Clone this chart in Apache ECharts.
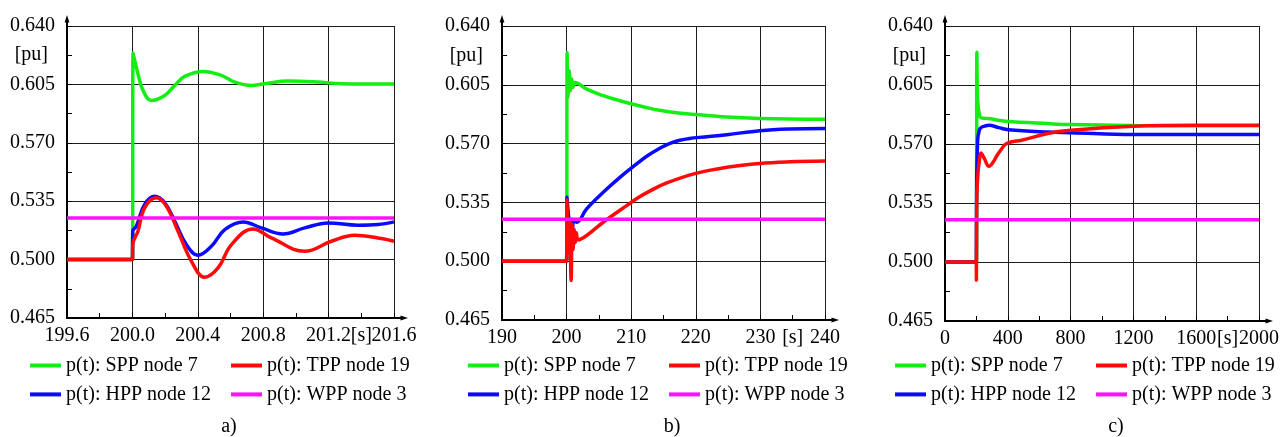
<!DOCTYPE html>
<html>
<head>
<meta charset="utf-8">
<script src="https://cdn.jsdelivr.net/npm/echarts@6/dist/echarts.min.js"></script>
<style>
  html, body { margin: 0; padding: 0; background: #fff; }
  #chart { width: 1282px; height: 437px; }
</style>
</head>
<body>
<div id="chart"></div>
<script>
// ---- a) short-term response, t in [199.6, 201.6] s ----
const sppA = [[199.6, 0.5], [200, 0.5], [200.004, 0.6238], [200.034, 0.6114], [200.065, 0.6014], [200.116, 0.5954],
  [200.198, 0.5984], [200.259, 0.6044], [200.32, 0.6098], [200.432, 0.6128], [200.544, 0.6104], [200.626, 0.6064],
  [200.728, 0.6044], [200.809, 0.6054], [200.952, 0.607], [201.135, 0.6064], [201.278, 0.6054], [201.6, 0.6052]];
const hppA = [[199.6, 0.5], [200, 0.5], [200.002, 0.517], [200.024, 0.52], [200.075, 0.533], [200.136, 0.5379],
  [200.198, 0.534], [200.259, 0.523], [200.33, 0.509], [200.401, 0.5026], [200.483, 0.508], [200.565, 0.518],
  [200.677, 0.5226], [200.789, 0.519], [200.921, 0.5154], [201.054, 0.519], [201.197, 0.522], [201.38, 0.5206],
  [201.502, 0.521], [201.6, 0.5226]];
const tppA = [[199.6, 0.5], [200, 0.5], [200.002, 0.509], [200.034, 0.517], [200.075, 0.531], [200.147, 0.537],
  [200.208, 0.532], [200.279, 0.517], [200.361, 0.499], [200.442, 0.4894], [200.524, 0.495], [200.606, 0.509],
  [200.738, 0.5184], [200.85, 0.513], [201.054, 0.505], [201.217, 0.511], [201.36, 0.5146], [201.502, 0.513],
  [201.6, 0.511]];
const wppA = [[199.6, 0.525], [201.6, 0.525]];

// ---- b) medium-term response, t in [190, 240] s ----
const sppB = [[190, 0.5], [200, 0.5], [200.08, 0.6242], [200.2, 0.5975], [200.4, 0.6133], [200.6, 0.6014],
  [200.8, 0.6084], [201.0, 0.6034], [201.3, 0.6064], [203.1, 0.6024], [205.7, 0.5985], [208, 0.5958],
  [210, 0.5937], [212, 0.5918], [214.4, 0.5898], [217, 0.5884], [220, 0.5873], [224.8, 0.5858],
  [229.9, 0.585], [240, 0.5845]];
const hppB = [[190, 0.5], [200, 0.5], [200.05, 0.538], [200.4, 0.523], [200.6, 0.5193], [200.75, 0.525],
  [200.9, 0.518], [201.1, 0.524], [201.55, 0.5232], [203.1, 0.5311], [205.67, 0.541], [208.25, 0.5499],
  [210.84, 0.5579], [212.4, 0.5625], [214.5, 0.5674], [216, 0.5702], [217.5, 0.572], [219, 0.573],
  [220.5, 0.5737], [224.8, 0.5753], [229.9, 0.5777], [234.6, 0.5787], [240, 0.579]];
const tppB = [[190, 0.5], [200, 0.5], [200.05, 0.5365], [200.25, 0.505], [200.45, 0.525], [200.7, 0.4885],
  [200.85, 0.522], [201.0, 0.507], [201.15, 0.519], [201.35, 0.511], [201.5, 0.517], [201.8, 0.5127],
  [203.1, 0.5153], [205.67, 0.5232], [209.3, 0.5331], [211.3, 0.5383], [213, 0.542], [215.5, 0.5466],
  [220, 0.5523], [224.8, 0.5559], [229.9, 0.5582], [234.6, 0.5592], [240, 0.5597]];
const wppB = [[190, 0.525], [240, 0.525]];

// ---- c) long-term response, t in [0, 2000] s ----
const sppC = [[0, 0.5], [200, 0.5], [203, 0.6245], [208, 0.5959], [218, 0.588], [229, 0.5856], [260, 0.5852],
  [291, 0.585], [330, 0.5842], [384, 0.5835], [654, 0.5821], [800, 0.5815], [1200, 0.581], [2000, 0.5808]];
const hppC = [[0, 0.5], [200, 0.5], [201, 0.5386], [208, 0.5722], [218, 0.578], [229, 0.5797], [260, 0.5808],
  [280, 0.5811], [343, 0.5797], [405, 0.5785], [654, 0.5771], [800, 0.5767], [1200, 0.5756], [2000, 0.5756]];
const tppC = [[0, 0.5], [199, 0.5], [200, 0.4891], [202, 0.5366], [210, 0.5525], [218, 0.5595], [229, 0.5647],
  [250, 0.5615], [280, 0.5568], [305, 0.559], [332, 0.5633], [360, 0.567], [384, 0.5698], [420, 0.5712],
  [488, 0.5722], [654, 0.5762], [800, 0.5781], [1200, 0.5805], [1600, 0.5811], [2000, 0.5811]];
const wppC = [[0, 0.525], [2000, 0.525]];

// axis ranges and labels
const yTicks = { min: 0.465, max: 0.640, step: 0.035, unitAt: 0.6225 };
const xRangeA = { min: 199.6, max: 201.6, step: 0.4, digits: 1, unitAt: 201.4 };
const xRangeB = { min: 190, max: 240, step: 10, digits: 0, unitAt: 235 };
const xRangeC = { min: 0, max: 2000, step: 400, digits: 0, unitAt: 1800 };
const captions = ['a)', 'b)', 'c)'];
const seriesNames = {
  spp: 'p(t): SPP node 7',
  tpp: 'p(t): TPP node 19',
  hpp: 'p(t): HPP node 12',
  wpp: 'p(t): WPP node 3'
};

const FONT = "'Liberation Serif', 'Times New Roman', serif";
const FS = 20;
const COLORS = { spp: '#14ee14', hpp: '#0a0aff', tpp: '#ff0a0a', wpp: '#ff10ff' };
const DRAW_ORDER = ['spp', 'hpp', 'tpp', 'wpp'];

const panels = [
  { x: xRangeA, data: { spp: sppA, hpp: hppA, tpp: tppA, wpp: wppA },
    grid: { left: 67, top: 26, width: 327, height: 292 }, legendLeft: [30, 231], captionX: 229 },
  { x: xRangeB, data: { spp: sppB, hpp: hppB, tpp: tppB, wpp: wppB },
    grid: { left: 502, top: 26, width: 323, height: 294 }, legendLeft: [468, 669], captionX: 672 },
  { x: xRangeC, data: { spp: sppC, hpp: hppC, tpp: tppC, wpp: wppC },
    grid: { left: 945, top: 26, width: 321, height: 295 }, legendLeft: [895, 1096], captionX: 1116 }
];

const textStyle = { fontFamily: FONT, fontSize: FS, color: '#000' };
const axisLineStyle = { color: '#000', width: 2 };

const option = {
  animation: false,
  backgroundColor: '#fff',
  grid: panels.map(p => Object.assign({ containLabel: false }, p.grid)),
  xAxis: panels.map((p, i) => ({
    type: 'value', gridIndex: i,
    min: p.x.min, max: p.x.max, interval: p.x.step,
    axisLine: { show: true, onZero: false, lineStyle: axisLineStyle },
    axisTick: { show: true, inside: true, length: 5, lineStyle: { color: '#000', width: 1 } },
    minorTick: { show: true, splitNumber: 2, length: 5, lineStyle: { color: '#000', width: 1 } },
    splitLine: { show: true, lineStyle: { color: '#1c1c1c', width: 1 } },
    axisLabel: Object.assign({ margin: 8, showMinLabel: true, showMaxLabel: true,
      formatter: v => v.toFixed(p.x.digits) }, textStyle)
  })),
  yAxis: panels.map((p, i) => ({
    type: 'value', gridIndex: i,
    min: yTicks.min, max: yTicks.max, interval: yTicks.step,
    axisLine: { show: true, onZero: false, lineStyle: axisLineStyle },
    axisTick: { show: true, inside: true, length: 5, lineStyle: { color: '#000', width: 1 } },
    minorTick: { show: true, splitNumber: 2, length: 5, lineStyle: { color: '#000', width: 1 } },
    splitLine: { show: true, lineStyle: { color: '#1c1c1c', width: 1 } },
    axisLabel: Object.assign({ margin: 12, showMinLabel: true, showMaxLabel: true,
      formatter: v => v.toFixed(3) }, textStyle)
  })),
  legend: [],
  series: []
};

panels.forEach((p, i) => {
  DRAW_ORDER.forEach(key => {
    option.series.push({
      type: 'line', name: seriesNames[key], xAxisIndex: i, yAxisIndex: i,
      data: p.data[key], showSymbol: false, symbol: 'none', smooth: 0.4,
      lineStyle: { color: COLORS[key], width: 3.5 },
      itemStyle: { color: COLORS[key] },
      clip: true
    });
  });
  const cols = [[seriesNames.spp, seriesNames.hpp], [seriesNames.tpp, seriesNames.wpp]];
  cols.forEach((names, c) => {
    option.legend.push({
      orient: 'vertical', left: p.legendLeft[c], top: 355, padding: 0,
      itemGap: 7.9, itemWidth: 31, itemHeight: 4, icon: 'rect',
      selectedMode: false,
      textStyle: Object.assign({ lineHeight: 21, padding: 0 }, textStyle),
      data: names
    });
  });
});

const chart = echarts.init(document.getElementById('chart'), null, { renderer: 'canvas' });
chart.setOption(option);

// axis arrows, unit labels and panel captions, placed from the axis scales
const graphics = [];
panels.forEach((p, i) => {
  const tl = chart.convertToPixel({ gridIndex: i }, [p.x.min, yTicks.max]);
  const br = chart.convertToPixel({ gridIndex: i }, [p.x.max, yTicks.min]);
  const x0 = tl[0], top = tl[1], right = br[0], bottom = br[1];
  const line = { stroke: '#000', lineWidth: 2 };
  graphics.push(
    { type: 'line', shape: { x1: x0, y1: top, x2: x0, y2: top - 5 }, style: line },
    { type: 'polygon', shape: { points: [[x0, top - 11], [x0 - 2.4, top - 3.5], [x0 + 2.4, top - 3.5]] }, style: { fill: '#000' } },
    { type: 'line', shape: { x1: right, y1: bottom, x2: right + 8, y2: bottom }, style: line },
    { type: 'polygon', shape: { points: [[right + 14, bottom], [right + 6.5, bottom - 2.4], [right + 6.5, bottom + 2.4]] }, style: { fill: '#000' } }
  );
  const pu = chart.convertToPixel({ gridIndex: i }, [p.x.min, yTicks.unitAt]);
  graphics.push({ type: 'text', x: x0 - 19, y: pu[1],
    style: { text: '[pu]', font: FS + 'px ' + FONT, fill: '#000', align: 'right', verticalAlign: 'middle' } });
  const su = chart.convertToPixel({ gridIndex: i }, [p.x.unitAt, yTicks.min]);
  graphics.push({ type: 'text', x: su[0], y: bottom + 8,
    style: { text: '[s]', font: FS + 'px ' + FONT, fill: '#000', align: 'center', verticalAlign: 'top' } });
  graphics.push({ type: 'text', x: p.captionX, y: 427,
    style: { text: captions[i], font: FS + 'px ' + FONT, fill: '#000', align: 'center', verticalAlign: 'middle' } });
});
chart.setOption({ graphic: graphics });
</script>
</body>
</html>
